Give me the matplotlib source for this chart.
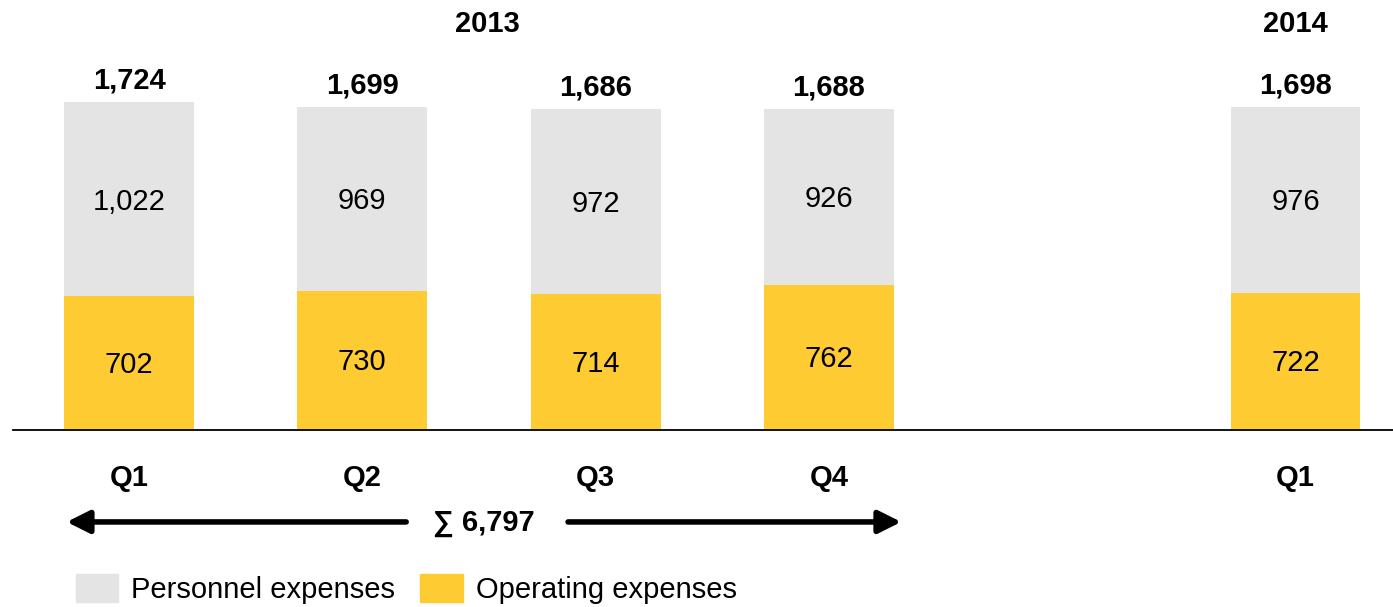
import matplotlib.pyplot as plt
from matplotlib.patches import Patch

plt.rcParams['font.family'] = ['Liberation Sans', 'DejaVu Sans']

# data
quarters = ['Q1', 'Q2', 'Q3', 'Q4', 'Q1']
positions = [0, 1, 2, 3, 5]
operating = [702, 730, 714, 762, 722]
personnel = [1022, 969, 972, 926, 976]
totals = ['1,724', '1,699', '1,686', '1,688', '1,698']
sum_2013 = '∑ 6,797'

grey = '#e4e4e4'
yellow = '#fecb33'
fs = 21

fig = plt.figure(figsize=(13.93, 6.07), dpi=100)
ax = fig.add_axes([0, 0, 1, 1])
ax.set_xlim(-0.553, 5.418)
ax.set_ylim(-930, 2260)
ax.axis('off')

w = 0.557
ax.bar(positions, operating, width=w, color=yellow)
ax.bar(positions, personnel, width=w, bottom=operating, color=grey)

for x, o, p, t, q in zip(positions, operating, personnel, totals, quarters):
    ax.text(x, o / 2 - 8, f'{o:,}', ha='center', va='center', fontsize=fs)
    ax.text(x, o + p / 2 - 12, f'{p:,}', ha='center', va='center', fontsize=fs)
    ax.text(x, o + p + 40, t, ha='center', va='bottom', fontsize=fs, fontweight='bold')
    ax.text(x, -250, q, ha='center', va='center', fontsize=fs, fontweight='bold')

# years
ax.text(1.535, 2134, '2013', ha='center', va='center', fontsize=fs, fontweight='bold')
ax.text(5, 2134, '2014', ha='center', va='center', fontsize=fs, fontweight='bold')

# baseline
ax.plot([-0.497, 5.418], [0, 0], color='black', lw=1.3, clip_on=False)

# sum arrow
ya = -483
ax.annotate('', xy=(-0.279, ya), xytext=(1.20, ya),
            arrowprops=dict(arrowstyle='-|>', color='black', lw=4, mutation_scale=34))
ax.annotate('', xy=(3.322, ya), xytext=(1.87, ya),
            arrowprops=dict(arrowstyle='-|>', color='black', lw=4, mutation_scale=34))
ax.text(1.52, ya - 5, sum_2013, ha='center', va='center', fontsize=fs, fontweight='bold')

# legend
handles = [Patch(color=grey, label='Personnel expenses'),
           Patch(color=yellow, label='Operating expenses')]
fig.legend(handles=handles, loc='lower left', bbox_to_anchor=(76 / 1393, 3 / 607),
           ncol=2, frameon=False, fontsize=fs, borderpad=0, borderaxespad=0,
           handlelength=1.45, handleheight=1.1, handletextpad=0.45, columnspacing=0.85)

fig.savefig('out.png', dpi=100)
